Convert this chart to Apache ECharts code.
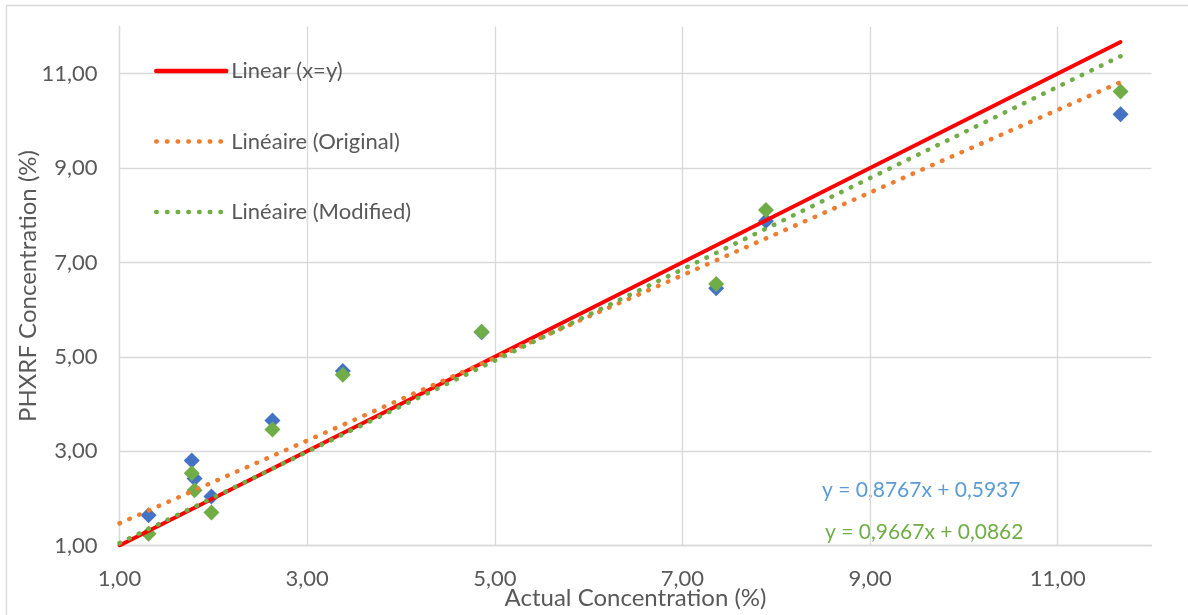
<!DOCTYPE html>
<html>
<head>
<meta charset="utf-8">
<script src="https://cdn.jsdelivr.net/npm/echarts@6/dist/echarts.min.js"></script>
<style>
html,body{margin:0;padding:0;background:#fff;}
#chart{width:1188px;height:615px;}
</style>
</head>
<body>
<div id="chart"></div>
<script>
// Actual concentration (%) of each sample
const actual = [1.31, 1.77, 1.80, 1.98, 2.63, 3.38, 4.86, 7.36, 7.89, 11.67];
// PHXRF concentration (%) - original (blue) and modified (green)
const phxrfOriginal = [1.64, 2.80, 2.42, 2.04, 3.65, 4.70, 5.52, 6.45, 7.88, 10.14];
const phxrfModified = [1.25, 2.53, 2.17, 1.70, 3.46, 4.62, 5.53, 6.54, 8.11, 10.62];
// Line end points [x, y]
const identityLine = [[1.00, 1.00], [11.67, 11.67]];
const trendOriginal = [[1.00, 1.47], [11.67, 10.82]];
const trendModified = [[1.00, 1.05], [11.67, 11.37]];
const equationOriginal = 'y = 0,8767x + 0,5937';
const equationModified = 'y = 0,9667x + 0,0862';
const legendNames = ['Linear (x=y)', 'Linéaire (Original)', 'Linéaire (Modified)'];
const xTitle = 'Actual Concentration (%)';
const yTitle = 'PHXRF Concentration (%)';

const FONT = 'Lato';
const TXT = '#595959';
const GRID = '#d9d9d9';
const fmt = v => v.toFixed(2).replace('.', ',');
const pts = (xs, ys) => xs.map((x, i) => [x, ys[i]]);

const chart = echarts.init(document.getElementById('chart'), null, {renderer: 'canvas'});
const dotStyle = (c) => ({color: c, width: 4.5, type: [0.5, 10.2], cap: 'round'});

chart.setOption({
  animation: false,
  backgroundColor: '#fff',
  textStyle: {fontFamily: FONT},
  grid: {left: 119.5, right: 36.5, top: 26.5, bottom: 69.5, containLabel: false, outerBoundsMode: 'none'},
  legend: {
    orient: 'vertical', left: 154, top: 60, padding: 0,
    itemWidth: 70, itemHeight: 22, itemGap: 48.5,
    data: legendNames,
    itemStyle: {opacity: 0},
    lineStyle: {width: 4.5},
    textStyle: {color: TXT, fontSize: 22, fontFamily: FONT, lineHeight: 22},
    selectedMode: false
  },
  xAxis: {
    type: 'value', min: 1, max: 12, interval: 2,
    name: xTitle, nameLocation: 'middle', nameGap: 41, nameMoveOverlap: false,
    nameTextStyle: {color: TXT, fontSize: 24, fontFamily: FONT},
    axisLine: {show: true, lineStyle: {color: GRID, width: 1.3}},
    axisTick: {show: false},
    axisLabel: {color: TXT, fontSize: 22, fontFamily: FONT, margin: 22, formatter: fmt, showMaxLabel: false},
    splitLine: {show: true, showMaxLine: false, lineStyle: {color: GRID, width: 1.3}}
  },
  yAxis: {
    type: 'value', min: 1, max: 12, interval: 2,
    name: yTitle, nameLocation: 'middle', nameGap: 79, nameMoveOverlap: false,
    nameTextStyle: {color: TXT, fontSize: 24, fontFamily: FONT},
    axisLine: {show: true, lineStyle: {color: GRID, width: 1.3}},
    axisTick: {show: false},
    axisLabel: {color: TXT, fontSize: 22, fontFamily: FONT, margin: 22, formatter: fmt, showMaxLabel: false},
    splitLine: {show: true, showMaxLine: false, lineStyle: {color: GRID, width: 1.3}}
  },
  graphic: [
    {type: 'rect', silent: true, z: -10, shape: {x: 6.5, y: 5.5, width: 1200, height: 640},
     style: {fill: 'none', stroke: GRID, lineWidth: 1.3}},
    {type: 'text', left: 822, top: 480, style: {text: equationOriginal, fill: '#5b9bd5', font: '21px ' + FONT}},
    {type: 'text', left: 825, top: 522, style: {text: equationModified, fill: '#70ad47', font: '21px ' + FONT}}
  ],
  series: [
    {name: legendNames[0], type: 'line', data: identityLine, symbol: 'none',
     lineStyle: {color: '#ff0000', width: 3.8, cap: 'round'}, itemStyle: {color: '#ff0000'}},
    {name: 'Original', type: 'scatter', data: pts(actual, phxrfOriginal), symbol: 'diamond', symbolSize: 16,
     itemStyle: {color: '#4472c4', opacity: 1}},
    {name: 'Modified', type: 'scatter', data: pts(actual, phxrfModified), symbol: 'diamond', symbolSize: 16,
     itemStyle: {color: '#70ad47', opacity: 1}},
    {name: legendNames[1], type: 'line', data: trendOriginal, symbol: 'none',
     lineStyle: dotStyle('#ed7d31'), itemStyle: {color: '#ed7d31'}},
    {name: legendNames[2], type: 'line', data: trendModified, symbol: 'none',
     lineStyle: dotStyle('#70ad47'), itemStyle: {color: '#70ad47'}}
  ]
});
</script>
</body>
</html>
